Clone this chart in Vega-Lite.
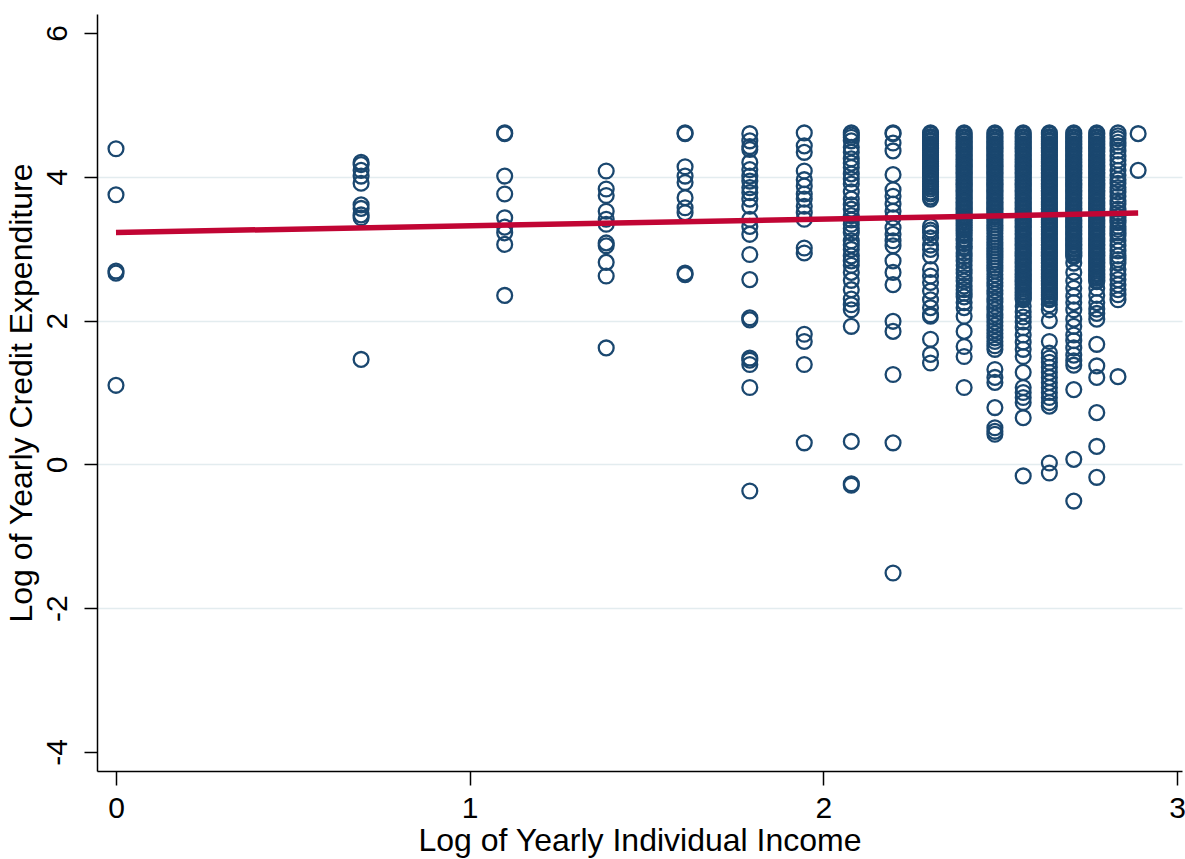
{
"$schema": "https://vega.github.io/schema/vega-lite/v6.json",
"width": 1085, "height": 757,
"autosize": {"type": "none"},
"padding": {"left": 97, "top": 14, "right": 3, "bottom": 88},
"background": "white",
"config": {"view": {"stroke": null}, "font": "Liberation Sans"},
"datasets": {
"fit": [{"x": 0, "y": 3.225}, {"x": 2.89, "y": 3.495}],
"points": [
{"x":0,"y":4.39},{"x":0,"y":3.75},{"x":0,"y":2.69},{"x":0,"y":2.66},{"x":0,"y":1.10},
{"x":0.693,"y":4.20},{"x":0.693,"y":4.17},{"x":0.693,"y":4.09},{"x":0.693,"y":4.01},{"x":0.693,"y":3.91},{"x":0.693,"y":3.61},{"x":0.693,"y":3.56},{"x":0.693,"y":3.47},{"x":0.693,"y":3.43},{"x":0.693,"y":1.46},
{"x":1.099,"y":4.61},{"x":1.099,"y":4.60},{"x":1.099,"y":4.01},{"x":1.099,"y":3.76},{"x":1.099,"y":3.43},{"x":1.099,"y":3.30},{"x":1.099,"y":3.22},{"x":1.099,"y":3.06},{"x":1.099,"y":2.35},
{"x":1.386,"y":4.08},{"x":1.386,"y":3.83},{"x":1.386,"y":3.74},{"x":1.386,"y":3.52},{"x":1.386,"y":3.41},{"x":1.386,"y":3.34},{"x":1.386,"y":3.08},{"x":1.386,"y":3.04},{"x":1.386,"y":2.81},{"x":1.386,"y":2.62},{"x":1.386,"y":1.62},
{"x":1.609,"y":4.61},{"x":1.609,"y":4.60},{"x":1.609,"y":4.14},{"x":1.609,"y":4.01},{"x":1.609,"y":3.92},{"x":1.609,"y":3.71},{"x":1.609,"y":3.57},{"x":1.609,"y":3.50},{"x":1.609,"y":2.66},{"x":1.609,"y":2.64},
{"x":1.792,"y":4.60},{"x":1.792,"y":4.50},{"x":1.792,"y":4.42},{"x":1.792,"y":4.38},{"x":1.792,"y":4.20},{"x":1.792,"y":4.10},{"x":1.792,"y":4.01},{"x":1.792,"y":3.94},{"x":1.792,"y":3.85},{"x":1.792,"y":3.78},{"x":1.792,"y":3.69},{"x":1.792,"y":3.59},{"x":1.792,"y":3.41},{"x":1.792,"y":3.31},{"x":1.792,"y":3.20},{"x":1.792,"y":2.92},{"x":1.792,"y":2.57},{"x":1.792,"y":2.04},{"x":1.792,"y":2.01},{"x":1.792,"y":1.48},{"x":1.792,"y":1.45},{"x":1.792,"y":1.39},{"x":1.792,"y":1.07},{"x":1.792,"y":-0.37},
{"x":1.946,"y":4.61},{"x":1.946,"y":4.43},{"x":1.946,"y":4.34},{"x":1.946,"y":4.08},{"x":1.946,"y":3.96},{"x":1.946,"y":3.87},{"x":1.946,"y":3.76},{"x":1.946,"y":3.69},{"x":1.946,"y":3.59},{"x":1.946,"y":3.50},{"x":1.946,"y":3.41},{"x":1.946,"y":3.01},{"x":1.946,"y":2.94},{"x":1.946,"y":1.81},{"x":1.946,"y":1.71},{"x":1.946,"y":1.39},{"x":1.946,"y":0.30},
{"x":2.079,"y":4.61},{"x":2.079,"y":4.58},{"x":2.079,"y":4.55},{"x":2.079,"y":4.50},{"x":2.079,"y":4.41},{"x":2.079,"y":4.34},{"x":2.079,"y":4.25},{"x":2.079,"y":4.19},{"x":2.079,"y":4.13},{"x":2.079,"y":4.04},{"x":2.079,"y":3.97},{"x":2.079,"y":3.90},{"x":2.079,"y":3.79},{"x":2.079,"y":3.69},{"x":2.079,"y":3.61},{"x":2.079,"y":3.55},{"x":2.079,"y":3.46},{"x":2.079,"y":3.40},{"x":2.079,"y":3.34},{"x":2.079,"y":3.28},{"x":2.079,"y":3.22},{"x":2.079,"y":3.11},{"x":2.079,"y":3.05},{"x":2.079,"y":2.99},{"x":2.079,"y":2.90},{"x":2.079,"y":2.83},{"x":2.079,"y":2.77},{"x":2.079,"y":2.67},{"x":2.079,"y":2.56},{"x":2.079,"y":2.43},{"x":2.079,"y":2.30},{"x":2.079,"y":2.22},{"x":2.079,"y":2.15},{"x":2.079,"y":1.92},{"x":2.079,"y":0.32},{"x":2.079,"y":-0.27},{"x":2.079,"y":-0.29},
{"x":2.197,"y":4.61},{"x":2.197,"y":4.60},{"x":2.197,"y":4.47},{"x":2.197,"y":4.36},{"x":2.197,"y":4.03},{"x":2.197,"y":3.82},{"x":2.197,"y":3.73},{"x":2.197,"y":3.62},{"x":2.197,"y":3.52},{"x":2.197,"y":3.43},{"x":2.197,"y":3.29},{"x":2.197,"y":3.20},{"x":2.197,"y":3.11},{"x":2.197,"y":3.04},{"x":2.197,"y":2.83},{"x":2.197,"y":2.67},{"x":2.197,"y":2.50},{"x":2.197,"y":1.99},{"x":2.197,"y":1.85},{"x":2.197,"y":1.25},{"x":2.197,"y":0.30},{"x":2.197,"y":-1.51},
{"x":2.303,"y":4.61},{"x":2.303,"y":4.59},{"x":2.303,"y":4.56},{"x":2.303,"y":4.54},{"x":2.303,"y":4.51},{"x":2.303,"y":4.49},{"x":2.303,"y":4.46},{"x":2.303,"y":4.44},{"x":2.303,"y":4.41},{"x":2.303,"y":4.39},{"x":2.303,"y":4.36},{"x":2.303,"y":4.34},{"x":2.303,"y":4.31},{"x":2.303,"y":4.29},{"x":2.303,"y":4.26},{"x":2.303,"y":4.24},{"x":2.303,"y":4.21},{"x":2.303,"y":4.19},{"x":2.303,"y":4.16},{"x":2.303,"y":4.14},{"x":2.303,"y":4.11},{"x":2.303,"y":4.09},{"x":2.303,"y":4.06},{"x":2.303,"y":4.04},{"x":2.303,"y":4.01},{"x":2.303,"y":3.97},{"x":2.303,"y":3.93},{"x":2.303,"y":3.90},{"x":2.303,"y":3.86},{"x":2.303,"y":3.83},{"x":2.303,"y":3.79},{"x":2.303,"y":3.76},{"x":2.303,"y":3.72},{"x":2.303,"y":3.69},{"x":2.303,"y":3.31},{"x":2.303,"y":3.26},{"x":2.303,"y":3.22},{"x":2.303,"y":3.15},{"x":2.303,"y":3.05},{"x":2.303,"y":2.99},{"x":2.303,"y":2.90},{"x":2.303,"y":2.71},{"x":2.303,"y":2.62},{"x":2.303,"y":2.53},{"x":2.303,"y":2.41},{"x":2.303,"y":2.29},{"x":2.303,"y":2.18},{"x":2.303,"y":2.08},{"x":2.303,"y":2.06},{"x":2.303,"y":1.74},{"x":2.303,"y":1.53},{"x":2.303,"y":1.41},
{"x":2.398,"y":4.61},{"x":2.398,"y":4.59},{"x":2.398,"y":4.56},{"x":2.398,"y":4.54},{"x":2.398,"y":4.51},{"x":2.398,"y":4.49},{"x":2.398,"y":4.46},{"x":2.398,"y":4.44},{"x":2.398,"y":4.41},{"x":2.398,"y":4.39},{"x":2.398,"y":4.36},{"x":2.398,"y":4.34},{"x":2.398,"y":4.31},{"x":2.398,"y":4.29},{"x":2.398,"y":4.26},{"x":2.398,"y":4.24},{"x":2.398,"y":4.21},{"x":2.398,"y":4.19},{"x":2.398,"y":4.16},{"x":2.398,"y":4.14},{"x":2.398,"y":4.11},{"x":2.398,"y":4.09},{"x":2.398,"y":4.06},{"x":2.398,"y":4.04},{"x":2.398,"y":4.01},{"x":2.398,"y":3.99},{"x":2.398,"y":3.96},{"x":2.398,"y":3.94},{"x":2.398,"y":3.91},{"x":2.398,"y":3.89},{"x":2.398,"y":3.86},{"x":2.398,"y":3.84},{"x":2.398,"y":3.81},{"x":2.398,"y":3.79},{"x":2.398,"y":3.76},{"x":2.398,"y":3.74},{"x":2.398,"y":3.71},{"x":2.398,"y":3.69},{"x":2.398,"y":3.66},{"x":2.398,"y":3.64},{"x":2.398,"y":3.61},{"x":2.398,"y":3.59},{"x":2.398,"y":3.56},{"x":2.398,"y":3.54},{"x":2.398,"y":3.51},{"x":2.398,"y":3.49},{"x":2.398,"y":3.46},{"x":2.398,"y":3.43},{"x":2.398,"y":3.40},{"x":2.398,"y":3.36},{"x":2.398,"y":3.33},{"x":2.398,"y":3.29},{"x":2.398,"y":3.26},{"x":2.398,"y":3.22},{"x":2.398,"y":3.18},{"x":2.398,"y":3.14},{"x":2.398,"y":3.11},{"x":2.398,"y":3.07},{"x":2.398,"y":3.03},{"x":2.398,"y":3.00},{"x":2.398,"y":2.94},{"x":2.398,"y":2.89},{"x":2.398,"y":2.83},{"x":2.398,"y":2.77},{"x":2.398,"y":2.71},{"x":2.398,"y":2.66},{"x":2.398,"y":2.60},{"x":2.398,"y":2.55},{"x":2.398,"y":2.48},{"x":2.398,"y":2.43},{"x":2.398,"y":2.38},{"x":2.398,"y":2.33},{"x":2.398,"y":2.25},{"x":2.398,"y":2.18},{"x":2.398,"y":2.06},{"x":2.398,"y":1.85},{"x":2.398,"y":1.64},{"x":2.398,"y":1.50},{"x":2.398,"y":1.07},
{"x":2.485,"y":4.61},{"x":2.485,"y":4.59},{"x":2.485,"y":4.56},{"x":2.485,"y":4.54},{"x":2.485,"y":4.51},{"x":2.485,"y":4.49},{"x":2.485,"y":4.46},{"x":2.485,"y":4.44},{"x":2.485,"y":4.41},{"x":2.485,"y":4.39},{"x":2.485,"y":4.36},{"x":2.485,"y":4.34},{"x":2.485,"y":4.31},{"x":2.485,"y":4.29},{"x":2.485,"y":4.26},{"x":2.485,"y":4.24},{"x":2.485,"y":4.21},{"x":2.485,"y":4.19},{"x":2.485,"y":4.16},{"x":2.485,"y":4.14},{"x":2.485,"y":4.11},{"x":2.485,"y":4.09},{"x":2.485,"y":4.06},{"x":2.485,"y":4.04},{"x":2.485,"y":4.01},{"x":2.485,"y":3.99},{"x":2.485,"y":3.96},{"x":2.485,"y":3.94},{"x":2.485,"y":3.91},{"x":2.485,"y":3.89},{"x":2.485,"y":3.86},{"x":2.485,"y":3.84},{"x":2.485,"y":3.81},{"x":2.485,"y":3.79},{"x":2.485,"y":3.76},{"x":2.485,"y":3.74},{"x":2.485,"y":3.71},{"x":2.485,"y":3.69},{"x":2.485,"y":3.66},{"x":2.485,"y":3.64},{"x":2.485,"y":3.61},{"x":2.485,"y":3.59},{"x":2.485,"y":3.56},{"x":2.485,"y":3.54},{"x":2.485,"y":3.51},{"x":2.485,"y":3.49},{"x":2.485,"y":3.46},{"x":2.485,"y":3.44},{"x":2.485,"y":3.41},{"x":2.485,"y":3.37},{"x":2.485,"y":3.33},{"x":2.485,"y":3.29},{"x":2.485,"y":3.25},{"x":2.485,"y":3.21},{"x":2.485,"y":3.17},{"x":2.485,"y":3.13},{"x":2.485,"y":3.09},{"x":2.485,"y":3.05},{"x":2.485,"y":3.01},{"x":2.485,"y":2.97},{"x":2.485,"y":2.93},{"x":2.485,"y":2.89},{"x":2.485,"y":2.85},{"x":2.485,"y":2.81},{"x":2.485,"y":2.77},{"x":2.485,"y":2.73},{"x":2.485,"y":2.69},{"x":2.485,"y":2.64},{"x":2.485,"y":2.58},{"x":2.485,"y":2.53},{"x":2.485,"y":2.48},{"x":2.485,"y":2.42},{"x":2.485,"y":2.37},{"x":2.485,"y":2.31},{"x":2.485,"y":2.26},{"x":2.485,"y":2.20},{"x":2.485,"y":2.15},{"x":2.485,"y":2.09},{"x":2.485,"y":2.04},{"x":2.485,"y":1.98},{"x":2.485,"y":1.93},{"x":2.485,"y":1.87},{"x":2.485,"y":1.82},{"x":2.485,"y":1.76},{"x":2.485,"y":1.71},{"x":2.485,"y":1.65},{"x":2.485,"y":1.60},{"x":2.485,"y":1.32},{"x":2.485,"y":1.21},{"x":2.485,"y":1.14},{"x":2.485,"y":0.79},{"x":2.485,"y":0.51},{"x":2.485,"y":0.46},{"x":2.485,"y":0.42},
{"x":2.565,"y":4.61},{"x":2.565,"y":4.59},{"x":2.565,"y":4.56},{"x":2.565,"y":4.54},{"x":2.565,"y":4.51},{"x":2.565,"y":4.49},{"x":2.565,"y":4.46},{"x":2.565,"y":4.44},{"x":2.565,"y":4.41},{"x":2.565,"y":4.39},{"x":2.565,"y":4.36},{"x":2.565,"y":4.34},{"x":2.565,"y":4.31},{"x":2.565,"y":4.29},{"x":2.565,"y":4.26},{"x":2.565,"y":4.24},{"x":2.565,"y":4.21},{"x":2.565,"y":4.19},{"x":2.565,"y":4.16},{"x":2.565,"y":4.14},{"x":2.565,"y":4.11},{"x":2.565,"y":4.09},{"x":2.565,"y":4.06},{"x":2.565,"y":4.04},{"x":2.565,"y":4.01},{"x":2.565,"y":3.99},{"x":2.565,"y":3.96},{"x":2.565,"y":3.94},{"x":2.565,"y":3.91},{"x":2.565,"y":3.89},{"x":2.565,"y":3.86},{"x":2.565,"y":3.84},{"x":2.565,"y":3.81},{"x":2.565,"y":3.79},{"x":2.565,"y":3.76},{"x":2.565,"y":3.74},{"x":2.565,"y":3.71},{"x":2.565,"y":3.69},{"x":2.565,"y":3.66},{"x":2.565,"y":3.64},{"x":2.565,"y":3.61},{"x":2.565,"y":3.59},{"x":2.565,"y":3.56},{"x":2.565,"y":3.54},{"x":2.565,"y":3.51},{"x":2.565,"y":3.49},{"x":2.565,"y":3.46},{"x":2.565,"y":3.44},{"x":2.565,"y":3.41},{"x":2.565,"y":3.39},{"x":2.565,"y":3.36},{"x":2.565,"y":3.34},{"x":2.565,"y":3.31},{"x":2.565,"y":3.29},{"x":2.565,"y":3.26},{"x":2.565,"y":3.24},{"x":2.565,"y":3.21},{"x":2.565,"y":3.19},{"x":2.565,"y":3.16},{"x":2.565,"y":3.14},{"x":2.565,"y":3.11},{"x":2.565,"y":3.09},{"x":2.565,"y":3.06},{"x":2.565,"y":3.04},{"x":2.565,"y":3.01},{"x":2.565,"y":2.99},{"x":2.565,"y":2.96},{"x":2.565,"y":2.94},{"x":2.565,"y":2.91},{"x":2.565,"y":2.89},{"x":2.565,"y":2.86},{"x":2.565,"y":2.84},{"x":2.565,"y":2.81},{"x":2.565,"y":2.79},{"x":2.565,"y":2.76},{"x":2.565,"y":2.74},{"x":2.565,"y":2.71},{"x":2.565,"y":2.69},{"x":2.565,"y":2.66},{"x":2.565,"y":2.64},{"x":2.565,"y":2.61},{"x":2.565,"y":2.59},{"x":2.565,"y":2.56},{"x":2.565,"y":2.54},{"x":2.565,"y":2.51},{"x":2.565,"y":2.49},{"x":2.565,"y":2.46},{"x":2.565,"y":2.44},{"x":2.565,"y":2.41},{"x":2.565,"y":2.39},{"x":2.565,"y":2.36},{"x":2.565,"y":2.34},{"x":2.565,"y":2.31},{"x":2.565,"y":2.29},{"x":2.565,"y":2.20},{"x":2.565,"y":2.12},{"x":2.565,"y":2.05},{"x":2.565,"y":1.98},{"x":2.565,"y":1.90},{"x":2.565,"y":1.80},{"x":2.565,"y":1.70},{"x":2.565,"y":1.60},{"x":2.565,"y":1.50},{"x":2.565,"y":1.28},{"x":2.565,"y":1.07},{"x":2.565,"y":1.00},{"x":2.565,"y":0.93},{"x":2.565,"y":0.86},{"x":2.565,"y":0.65},{"x":2.565,"y":-0.16},
{"x":2.639,"y":4.61},{"x":2.639,"y":4.59},{"x":2.639,"y":4.56},{"x":2.639,"y":4.54},{"x":2.639,"y":4.51},{"x":2.639,"y":4.49},{"x":2.639,"y":4.46},{"x":2.639,"y":4.44},{"x":2.639,"y":4.41},{"x":2.639,"y":4.39},{"x":2.639,"y":4.36},{"x":2.639,"y":4.34},{"x":2.639,"y":4.31},{"x":2.639,"y":4.29},{"x":2.639,"y":4.26},{"x":2.639,"y":4.24},{"x":2.639,"y":4.21},{"x":2.639,"y":4.19},{"x":2.639,"y":4.16},{"x":2.639,"y":4.14},{"x":2.639,"y":4.11},{"x":2.639,"y":4.09},{"x":2.639,"y":4.06},{"x":2.639,"y":4.04},{"x":2.639,"y":4.01},{"x":2.639,"y":3.99},{"x":2.639,"y":3.96},{"x":2.639,"y":3.94},{"x":2.639,"y":3.91},{"x":2.639,"y":3.89},{"x":2.639,"y":3.86},{"x":2.639,"y":3.84},{"x":2.639,"y":3.81},{"x":2.639,"y":3.79},{"x":2.639,"y":3.76},{"x":2.639,"y":3.74},{"x":2.639,"y":3.71},{"x":2.639,"y":3.69},{"x":2.639,"y":3.66},{"x":2.639,"y":3.64},{"x":2.639,"y":3.61},{"x":2.639,"y":3.59},{"x":2.639,"y":3.56},{"x":2.639,"y":3.54},{"x":2.639,"y":3.51},{"x":2.639,"y":3.49},{"x":2.639,"y":3.46},{"x":2.639,"y":3.44},{"x":2.639,"y":3.41},{"x":2.639,"y":3.39},{"x":2.639,"y":3.36},{"x":2.639,"y":3.34},{"x":2.639,"y":3.31},{"x":2.639,"y":3.29},{"x":2.639,"y":3.26},{"x":2.639,"y":3.24},{"x":2.639,"y":3.21},{"x":2.639,"y":3.19},{"x":2.639,"y":3.16},{"x":2.639,"y":3.14},{"x":2.639,"y":3.11},{"x":2.639,"y":3.09},{"x":2.639,"y":3.06},{"x":2.639,"y":3.04},{"x":2.639,"y":3.01},{"x":2.639,"y":2.99},{"x":2.639,"y":2.96},{"x":2.639,"y":2.94},{"x":2.639,"y":2.91},{"x":2.639,"y":2.89},{"x":2.639,"y":2.86},{"x":2.639,"y":2.84},{"x":2.639,"y":2.81},{"x":2.639,"y":2.79},{"x":2.639,"y":2.76},{"x":2.639,"y":2.74},{"x":2.639,"y":2.71},{"x":2.639,"y":2.69},{"x":2.639,"y":2.66},{"x":2.639,"y":2.64},{"x":2.639,"y":2.61},{"x":2.639,"y":2.59},{"x":2.639,"y":2.56},{"x":2.639,"y":2.54},{"x":2.639,"y":2.51},{"x":2.639,"y":2.49},{"x":2.639,"y":2.46},{"x":2.639,"y":2.44},{"x":2.639,"y":2.41},{"x":2.639,"y":2.39},{"x":2.639,"y":2.36},{"x":2.639,"y":2.34},{"x":2.639,"y":2.31},{"x":2.639,"y":2.29},{"x":2.639,"y":2.22},{"x":2.639,"y":2.15},{"x":2.639,"y":2.00},{"x":2.639,"y":1.71},{"x":2.639,"y":1.55},{"x":2.639,"y":1.48},{"x":2.639,"y":1.42},{"x":2.639,"y":1.35},{"x":2.639,"y":1.28},{"x":2.639,"y":1.21},{"x":2.639,"y":1.14},{"x":2.639,"y":1.07},{"x":2.639,"y":1.00},{"x":2.639,"y":0.93},{"x":2.639,"y":0.86},{"x":2.639,"y":0.81},{"x":2.639,"y":0.02},{"x":2.639,"y":-0.12},
{"x":2.708,"y":4.61},{"x":2.708,"y":4.59},{"x":2.708,"y":4.56},{"x":2.708,"y":4.54},{"x":2.708,"y":4.51},{"x":2.708,"y":4.49},{"x":2.708,"y":4.46},{"x":2.708,"y":4.44},{"x":2.708,"y":4.41},{"x":2.708,"y":4.39},{"x":2.708,"y":4.36},{"x":2.708,"y":4.34},{"x":2.708,"y":4.31},{"x":2.708,"y":4.29},{"x":2.708,"y":4.26},{"x":2.708,"y":4.24},{"x":2.708,"y":4.21},{"x":2.708,"y":4.19},{"x":2.708,"y":4.16},{"x":2.708,"y":4.14},{"x":2.708,"y":4.11},{"x":2.708,"y":4.09},{"x":2.708,"y":4.06},{"x":2.708,"y":4.04},{"x":2.708,"y":4.01},{"x":2.708,"y":3.99},{"x":2.708,"y":3.96},{"x":2.708,"y":3.94},{"x":2.708,"y":3.91},{"x":2.708,"y":3.89},{"x":2.708,"y":3.86},{"x":2.708,"y":3.84},{"x":2.708,"y":3.81},{"x":2.708,"y":3.79},{"x":2.708,"y":3.76},{"x":2.708,"y":3.74},{"x":2.708,"y":3.71},{"x":2.708,"y":3.69},{"x":2.708,"y":3.66},{"x":2.708,"y":3.64},{"x":2.708,"y":3.61},{"x":2.708,"y":3.59},{"x":2.708,"y":3.56},{"x":2.708,"y":3.54},{"x":2.708,"y":3.51},{"x":2.708,"y":3.49},{"x":2.708,"y":3.46},{"x":2.708,"y":3.44},{"x":2.708,"y":3.41},{"x":2.708,"y":3.39},{"x":2.708,"y":3.36},{"x":2.708,"y":3.34},{"x":2.708,"y":3.31},{"x":2.708,"y":3.29},{"x":2.708,"y":3.26},{"x":2.708,"y":3.24},{"x":2.708,"y":3.21},{"x":2.708,"y":3.19},{"x":2.708,"y":3.16},{"x":2.708,"y":3.14},{"x":2.708,"y":3.11},{"x":2.708,"y":3.09},{"x":2.708,"y":3.06},{"x":2.708,"y":3.04},{"x":2.708,"y":3.01},{"x":2.708,"y":2.99},{"x":2.708,"y":2.96},{"x":2.708,"y":2.94},{"x":2.708,"y":2.91},{"x":2.708,"y":2.89},{"x":2.708,"y":2.80},{"x":2.708,"y":2.67},{"x":2.708,"y":2.55},{"x":2.708,"y":2.45},{"x":2.708,"y":2.34},{"x":2.708,"y":2.25},{"x":2.708,"y":2.15},{"x":2.708,"y":2.02},{"x":2.708,"y":1.92},{"x":2.708,"y":1.80},{"x":2.708,"y":1.72},{"x":2.708,"y":1.62},{"x":2.708,"y":1.52},{"x":2.708,"y":1.44},{"x":2.708,"y":1.38},{"x":2.708,"y":1.04},{"x":2.708,"y":0.07},{"x":2.708,"y":-0.51},
{"x":2.773,"y":4.61},{"x":2.773,"y":4.59},{"x":2.773,"y":4.56},{"x":2.773,"y":4.54},{"x":2.773,"y":4.51},{"x":2.773,"y":4.49},{"x":2.773,"y":4.46},{"x":2.773,"y":4.44},{"x":2.773,"y":4.41},{"x":2.773,"y":4.39},{"x":2.773,"y":4.36},{"x":2.773,"y":4.34},{"x":2.773,"y":4.31},{"x":2.773,"y":4.29},{"x":2.773,"y":4.26},{"x":2.773,"y":4.24},{"x":2.773,"y":4.21},{"x":2.773,"y":4.19},{"x":2.773,"y":4.16},{"x":2.773,"y":4.14},{"x":2.773,"y":4.11},{"x":2.773,"y":4.09},{"x":2.773,"y":4.06},{"x":2.773,"y":4.04},{"x":2.773,"y":4.01},{"x":2.773,"y":3.99},{"x":2.773,"y":3.96},{"x":2.773,"y":3.94},{"x":2.773,"y":3.91},{"x":2.773,"y":3.89},{"x":2.773,"y":3.86},{"x":2.773,"y":3.84},{"x":2.773,"y":3.81},{"x":2.773,"y":3.79},{"x":2.773,"y":3.76},{"x":2.773,"y":3.74},{"x":2.773,"y":3.71},{"x":2.773,"y":3.69},{"x":2.773,"y":3.66},{"x":2.773,"y":3.64},{"x":2.773,"y":3.61},{"x":2.773,"y":3.59},{"x":2.773,"y":3.56},{"x":2.773,"y":3.54},{"x":2.773,"y":3.51},{"x":2.773,"y":3.49},{"x":2.773,"y":3.46},{"x":2.773,"y":3.44},{"x":2.773,"y":3.41},{"x":2.773,"y":3.39},{"x":2.773,"y":3.36},{"x":2.773,"y":3.34},{"x":2.773,"y":3.31},{"x":2.773,"y":3.29},{"x":2.773,"y":3.26},{"x":2.773,"y":3.24},{"x":2.773,"y":3.21},{"x":2.773,"y":3.19},{"x":2.773,"y":3.16},{"x":2.773,"y":3.14},{"x":2.773,"y":3.11},{"x":2.773,"y":3.09},{"x":2.773,"y":3.06},{"x":2.773,"y":3.04},{"x":2.773,"y":3.01},{"x":2.773,"y":2.99},{"x":2.773,"y":2.96},{"x":2.773,"y":2.94},{"x":2.773,"y":2.91},{"x":2.773,"y":2.89},{"x":2.773,"y":2.86},{"x":2.773,"y":2.84},{"x":2.773,"y":2.81},{"x":2.773,"y":2.79},{"x":2.773,"y":2.76},{"x":2.773,"y":2.74},{"x":2.773,"y":2.71},{"x":2.773,"y":2.69},{"x":2.773,"y":2.66},{"x":2.773,"y":2.64},{"x":2.773,"y":2.61},{"x":2.773,"y":2.59},{"x":2.773,"y":2.56},{"x":2.773,"y":2.54},{"x":2.773,"y":2.45},{"x":2.773,"y":2.35},{"x":2.773,"y":2.25},{"x":2.773,"y":2.16},{"x":2.773,"y":2.10},{"x":2.773,"y":2.02},{"x":2.773,"y":1.67},{"x":2.773,"y":1.37},{"x":2.773,"y":1.21},{"x":2.773,"y":0.72},{"x":2.773,"y":0.25},{"x":2.773,"y":-0.18},
{"x":2.833,"y":4.61},{"x":2.833,"y":4.57},{"x":2.833,"y":4.53},{"x":2.833,"y":4.48},{"x":2.833,"y":4.43},{"x":2.833,"y":4.36},{"x":2.833,"y":4.29},{"x":2.833,"y":4.23},{"x":2.833,"y":4.17},{"x":2.833,"y":4.09},{"x":2.833,"y":4.02},{"x":2.833,"y":3.96},{"x":2.833,"y":3.91},{"x":2.833,"y":3.85},{"x":2.833,"y":3.79},{"x":2.833,"y":3.73},{"x":2.833,"y":3.67},{"x":2.833,"y":3.62},{"x":2.833,"y":3.55},{"x":2.833,"y":3.50},{"x":2.833,"y":3.45},{"x":2.833,"y":3.40},{"x":2.833,"y":3.36},{"x":2.833,"y":3.31},{"x":2.833,"y":3.27},{"x":2.833,"y":3.22},{"x":2.833,"y":3.18},{"x":2.833,"y":3.11},{"x":2.833,"y":3.04},{"x":2.833,"y":2.97},{"x":2.833,"y":2.90},{"x":2.833,"y":2.85},{"x":2.833,"y":2.80},{"x":2.833,"y":2.71},{"x":2.833,"y":2.64},{"x":2.833,"y":2.57},{"x":2.833,"y":2.50},{"x":2.833,"y":2.43},{"x":2.833,"y":2.36},{"x":2.833,"y":2.29},{"x":2.833,"y":1.22},
{"x":2.890,"y":4.60},{"x":2.890,"y":4.09}
]
},
"layer": [
{
"data": {"name": "points"},
"mark": {"type": "point", "shape": "circle", "filled": false, "size": 220, "strokeWidth": 2.3, "color": "#1a476f", "opacity": 1},
"encoding": {
"x": {"field": "x", "type": "quantitative",
"scale": {"domain": [-0.0537, 3.014], "nice": false, "zero": false},
"axis": {"title": "Log of Yearly Individual Income", "values": [0, 1, 2, 3], "format": "d", "grid": false,
"domainColor": "#000", "domainWidth": 1.5, "tickColor": "#000", "tickWidth": 1.5, "tickSize": 14,
"labelFont": "Liberation Sans", "labelFontSize": 30, "labelColor": "#000", "labelPadding": 8, "labelFlush": false,
"titleFont": "Liberation Sans", "titleFontSize": 32, "titleFontWeight": "normal", "titleColor": "#000", "titlePadding": 2}},
"y": {"field": "y", "type": "quantitative",
"scale": {"domain": [-4.264, 6.264], "nice": false, "zero": false},
"axis": {"title": "Log of Yearly Credit Expenditure", "values": [-4, -2, 0, 2, 4, 6], "labelExpr": "datum.value + ''",
"grid": true, "gridColor": "#e3ecef", "gridWidth": 1.5,
"gridOpacity": {"condition": {"test": "datum.value == 6 || datum.value == -4", "value": 0}, "value": 1},
"domainColor": "#000", "domainWidth": 1.5, "tickColor": "#000", "tickWidth": 1.5, "tickSize": 13,
"labelFont": "Liberation Sans", "labelFontSize": 30, "labelColor": "#000", "labelAngle": -90, "labelAlign": "center", "labelBaseline": "bottom", "labelPadding": 12,
"titleFont": "Liberation Sans", "titleFontSize": 32, "titleFontWeight": "normal", "titleColor": "#000", "titlePadding": 4}}
}
},
{
"data": {"name": "fit"},
"mark": {"type": "line", "color": "#c10534", "strokeWidth": 5.5, "strokeCap": "butt"},
"encoding": {
"x": {"field": "x", "type": "quantitative"},
"y": {"field": "y", "type": "quantitative"}
}
}
]
}
